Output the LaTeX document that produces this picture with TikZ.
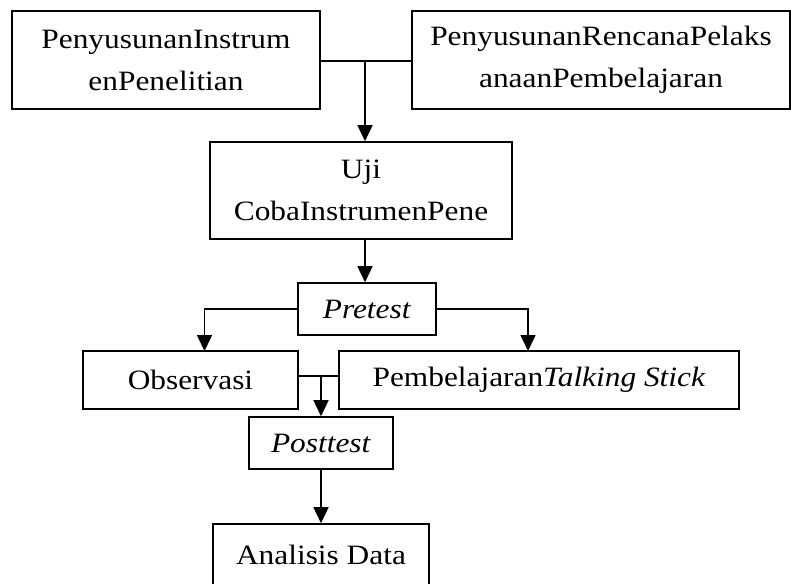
\documentclass[tikz,border=0pt]{standalone}
\usepackage{fontspec}
\setmainfont[FakeStretch=1.12]{Liberation Serif}
\usepackage{tikz}
\usetikzlibrary{arrows.meta,positioning}

\begin{document}
\begin{tikzpicture}[x=1pt,y=1pt,line width=1.6pt,
  >={Triangle[length=16pt,width=15pt]},
  box node/.style={draw,rectangle,align=center,inner sep=0pt,
  font=\fontsize{28}{42}\selectfont,minimum height=58pt}]

  \useasboundingbox (0,0) rectangle (791,-583);

  % top row
  \node[box node,minimum width=308pt,minimum height=98pt] (instr) at (166,-60)
    {PenyusunanInstrum\\enPenelitian};
  \node[box node,minimum width=378pt,minimum height=98pt] (rpp) at (601,-60)
    {PenyusunanRencanaPelaks\\anaanPembelajaran};
  \node[box node,minimum width=302pt,minimum height=97pt] (uji) at (361,-190.5)
    {Uji\\CobaInstrumenPene};
  \node[box node,minimum width=138pt,minimum height=52pt] (pre) at (367,-309)
    {\textit{Pretest}};

  % middle row
  \node[box node,minimum width=215pt] (obs) at (190.5,-380) {Observasi};
  \node[box node,minimum width=400pt] (pemb) at (539,-380)
    {Pembelajaran\textit{Talking Stick}};
  \node[box node,minimum width=144pt,minimum height=52pt] (post) at (321,-443)
    {\textit{Posttest}};
  \node[box node,minimum width=216pt,minimum height=62pt] (ana) at (321,-555)
    {Analisis Data};

  \coordinate (j1) at (365,-61);
  \coordinate (j2) at (321,-376);

  \draw (instr.east |- j1) -- (rpp.west |- j1);
  \draw[->] (j1) -- (j1 |- uji.north);
  \draw[->] (j1 |- uji.south) -- (j1 |- pre.north);
  \draw[->] (pre.west) -| (204.5,-351);
  \draw[->] (pre.east) -| (528,-351);
  \draw (obs.east |- j2) -- (pemb.west |- j2);
  \draw[->] (j2) -- (post.north);
  \draw[->] (post.south) -- (ana.north);

\end{tikzpicture}
\end{document}
